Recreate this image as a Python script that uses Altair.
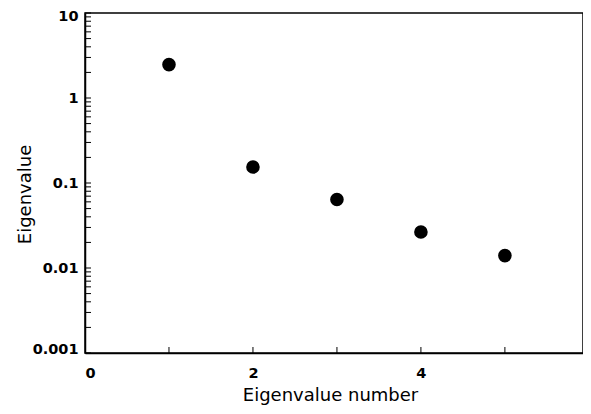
import altair as alt
import pandas as pd

# data
eig_number = [1, 2, 3, 4, 5]
eig_value = [2.47, 0.154, 0.064, 0.0265, 0.0140]

y_label_values = [0.001, 0.01, 0.1, 1, 10]
x_label_values = [0, 2, 4]
x_tick_values = [1, 2, 3, 4, 5]
decades = [0.001, 0.01, 0.1, 1]
multipliers = [1, 2, 3, 4, 5, 6, 7, 8, 9]

pts = pd.DataFrame({"n": eig_number, "ev": eig_value})
ytk = pd.DataFrame({"ev": [d * m for d in decades for m in multipliers] + [10]})
xtk = pd.DataFrame({"n": x_tick_values})

W, H = 498, 340
xscale = alt.Scale(domain=[0, 5.93], nice=False, zero=False)
yscale = alt.Scale(type="log", domain=[0.001, 10], nice=False)

label_font = "DejaVu Sans"
title_font = "DejaVu Sans"

xaxis = alt.Axis(
    values=x_label_values, format="d", ticks=False, grid=False, labelFont=label_font,
    labelFontWeight="bold", labelFontSize=14.5, labelColor="black", labelPadding=13,
    domainColor="black", domainWidth=1.5, title="Eigenvalue number",
    titleFont=title_font, titleFontSize=18, titleFontWeight="normal", titleColor="black",
    titleX=245, titleY=47, titleBaseline="alphabetic", titleAlign="center",
)
yaxis = alt.Axis(
    values=y_label_values, format="~g", ticks=False, grid=False, labelFont=label_font,
    labelFontWeight="bold", labelFontSize=14.5, labelColor="black", labelPadding=7,
    labelOffset={"condition": [
        {"test": "datum.value >= 10", "value": 3},
        {"test": "datum.value <= 0.001", "value": -4},
    ], "value": 0},
    domainColor="black", domainWidth=1.5, title="Eigenvalue",
    titleFont=title_font, titleFontSize=18, titleFontWeight="normal", titleColor="black",
    titleX=-55, titleY=181, titleBaseline="alphabetic", titleAlign="center", titleAngle=270,
)

points = alt.Chart(pts).mark_circle(size=185, color="black", opacity=1).encode(
    x=alt.X("n:Q", scale=xscale, axis=xaxis),
    y=alt.Y("ev:Q", scale=yscale, axis=yaxis),
)

yticks = alt.Chart(ytk).mark_rule(color="black", strokeWidth=1).encode(
    y=alt.Y("ev:Q", scale=yscale),
    x=alt.value(0),
    x2=alt.value(6),
)

xticks = alt.Chart(xtk).mark_rule(color="black", strokeWidth=1).encode(
    x=alt.X("n:Q", scale=xscale),
    y=alt.value(H),
    y2=alt.value(H - 6),
)

chart = (
    alt.layer(yticks, xticks, points)
    .properties(
        width=W, height=H, autosize="none",
        padding={"left": 77, "top": 5, "right": 0, "bottom": 53},
        background="white",
    )
    .configure_view(stroke="black", strokeWidth=1.5)
)

chart.save("out.html", embed_options={"renderer": "svg", "actions": False})
